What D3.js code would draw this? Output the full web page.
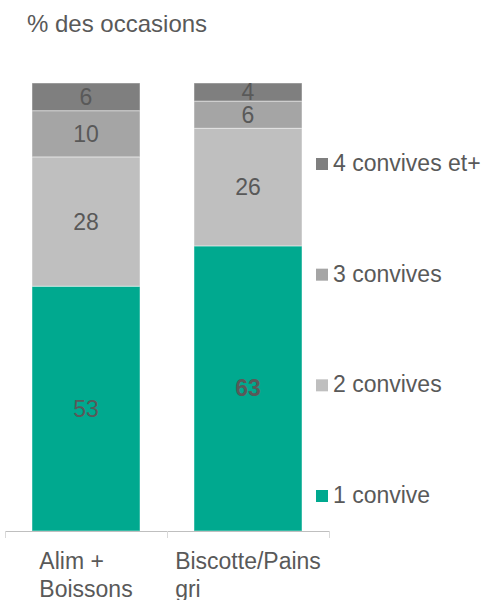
<!DOCTYPE html>
<html>
<head>
<meta charset="utf-8">
<script src="https://cdn.jsdelivr.net/npm/d3@7"></script>
<style>
  body { margin: 0; background: #fff; }
  text { font-family: "Liberation Sans", Arial, sans-serif; fill: #595959; }
</style>
</head>
<body>
<div class="chart"></div>
<script>
var width = 486;
var height = 600;

// data
var categories = ['Alim + Boissons', 'Biscotte/Pains gri'];
var categoryLines = [['Alim +', 'Boissons'], ['Biscotte/Pains', 'gri']];
var series = ['1 convive', '2 convives', '3 convives', '4 convives et+'];
var oneGuest = [53, 63];
var twoGuests = [28, 26];
var threeGuests = [10, 6];
var fourPlus = [6, 4];
var boldLabels = ['Biscotte/Pains gri|1 convive'];

var colors = ['#00a98f', '#bfbfbf', '#a5a5a5', '#7f7f7f'];

let rows = categories.map((c, i) => ({
  cat: c,
  '1 convive': oneGuest[i],
  '2 convives': twoGuests[i],
  '3 convives': threeGuests[i],
  '4 convives et+': fourPlus[i]
}));

let stacked = d3.stack()
  .keys(series)
  .offset(d3.stackOffsetExpand)(rows);

let svg = d3.select('.chart')
  .append('svg')
  .attr('width', width)
  .attr('height', height);

//scales
let xScale = d3.scaleBand()
  .domain(categories)
  .range([5, 329])
  .paddingInner(1 / 3)
  .paddingOuter(1 / 6);

let yScale = d3.scaleLinear()
  .domain([0, 1])
  .range([531, 83]);

let color = d3.scaleOrdinal().domain(series).range(colors);

// title
svg.append('text')
  .attr('x', 27)
  .attr('y', 32)
  .style('font-size', '24px')
  .text('% des occasions');

// bars
let layers = svg.selectAll('.layer')
  .data(stacked)
  .enter()
  .append('g')
  .attr('class', 'layer')
  .style('fill', d => color(d.key));

layers.selectAll('rect')
  .data(d => d.map(p => Object.assign(p, {key: d.key})))
  .enter()
  .append('rect')
  .attr('x', d => xScale(d.data.cat))
  .attr('width', xScale.bandwidth())
  .attr('y', d => yScale(d[1]))
  .attr('height', d => yScale(d[0]) - yScale(d[1]))
  .style('stroke', '#fff')
  .style('stroke-opacity', 0.45)
  .style('stroke-width', 1);

layers.selectAll('.val')
  .data(d => d)
  .enter()
  .append('text')
  .attr('class', 'val')
  .style('text-anchor', 'middle')
  .style('font-size', '23px')
  .style('font-weight', d => boldLabels.includes(d.data.cat + '|' + d.key) ? 'bold' : 'normal')
  .attr('x', d => xScale(d.data.cat) + xScale.bandwidth() / 2)
  .attr('y', d => (yScale(d[0]) + yScale(d[1])) / 2 + 8)
  .text(d => d.data[d.key]);

// x axis
let xAxis = d3.axisBottom(xScale).tickSize(0).tickSizeOuter(0).tickFormat('');
let axisG = svg.append('g')
  .attr('transform', 'translate(0, 531)')
  .call(xAxis);
axisG.select('.domain').attr('stroke', '#bfbfbf');

let bounds = [xScale.range()[0]].concat(categories.map(c => xScale(c) - xScale.step() * xScale.paddingOuter() + xScale.step()));
axisG.selectAll('.bound')
  .data(bounds)
  .enter()
  .append('line')
  .attr('x1', d => d + 0.5)
  .attr('x2', d => d + 0.5)
  .attr('y1', 0)
  .attr('y2', 7)
  .attr('stroke', '#d9d9d9');

// category labels, block centred under the bar, lines left-aligned
categories.forEach((c, i) => {
  let g = svg.append('g');
  let t = g.append('text').style('font-size', '23px');
  categoryLines[i].forEach((line, j) => {
    t.append('tspan')
      .attr('x', 0)
      .attr('y', 569 + j * 28)
      .text(line);
  });
  let w = d3.max(t.selectAll('tspan').nodes(), n => n.getComputedTextLength());
  g.attr('transform', `translate(${xScale(c) + xScale.bandwidth() / 2 - w / 2}, 0)`);
});

// legend
let legendY = d3.scaleLinear().domain([0, series.length - 1]).range([503, 171]);
let legend = svg.selectAll('.legend')
  .data(series)
  .enter()
  .append('g')
  .attr('class', 'legend')
  .attr('transform', (d, i) => `translate(316, ${legendY(i)})`);

legend.append('rect')
  .attr('x', 0)
  .attr('y', -13)
  .attr('width', 12)
  .attr('height', 12)
  .style('fill', d => color(d));

legend.append('text')
  .attr('x', 17)
  .attr('y', 0)
  .style('font-size', '23px')
  .text(d => d);
</script>
</body>
</html>
